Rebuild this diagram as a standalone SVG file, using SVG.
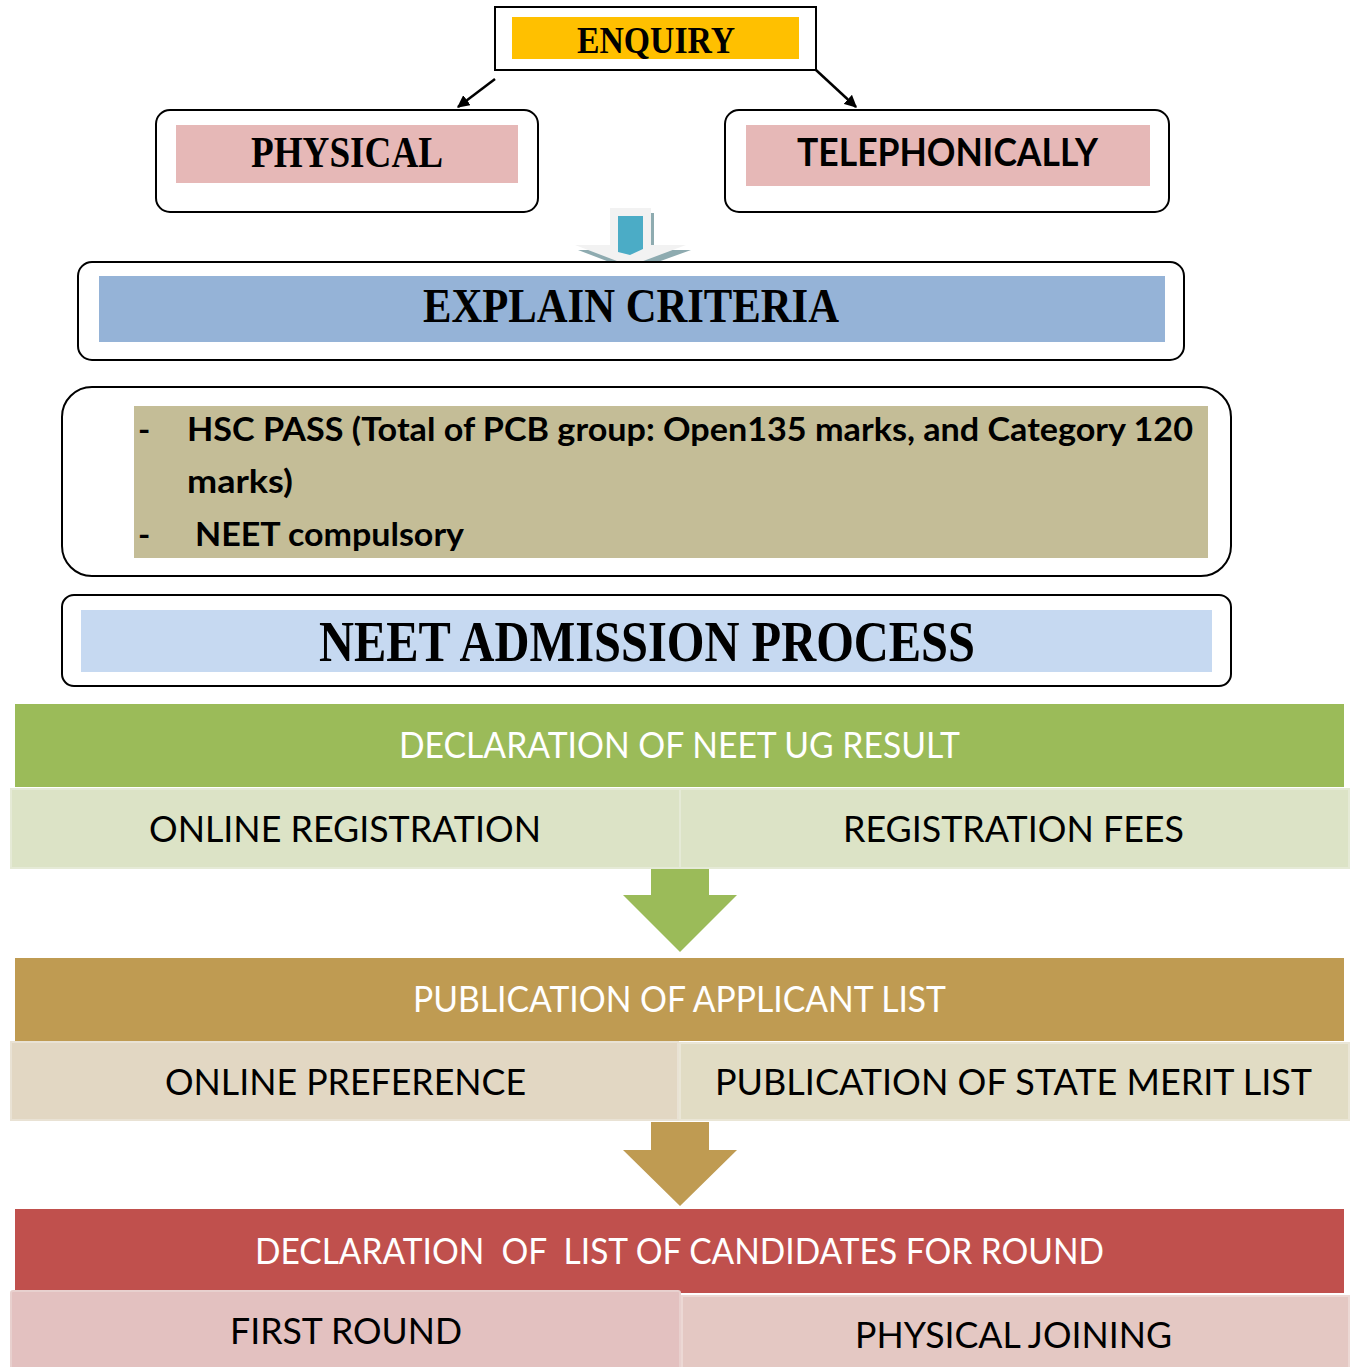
<svg xmlns="http://www.w3.org/2000/svg" width="1354" height="1367" viewBox="0 0 1354 1367">
<defs>
<style>
.box{fill:#fff;stroke:#000;stroke-width:2}
.ser{font-family:"Liberation Serif","DejaVu Serif",serif;font-weight:bold;fill:#000}
.sb{font-family:Lato,"Liberation Sans",sans-serif;font-weight:bold;fill:#000}
.s{font-family:Lato,"Liberation Sans",sans-serif;fill:#000;font-size:37px}
.w{font-family:Lato,"Liberation Sans",sans-serif;fill:#fff;font-size:36px}
.sub{stroke-width:2}
</style>
<marker id="ah" viewBox="0 0 10 10" refX="9" refY="5" markerWidth="5" markerHeight="5" orient="auto">
<path d="M0,0 L10,5 L0,10 z" fill="#000"/>
</marker>
</defs>
<rect width="1354" height="1367" fill="#fff"/>

<g id="connectors">
<line x1="495" y1="79" x2="458" y2="107" stroke="#000" stroke-width="2.5" marker-end="url(#ah)"/>
<line x1="816" y1="70" x2="856" y2="107" stroke="#000" stroke-width="2.5" marker-end="url(#ah)"/>
<g id="arrow-top">
<polygon points="613,213 654,213 654,250 691,250 633,271 578,250 613,250" fill="#8EABB0"/>
<polygon points="610,208 651,208 651,245 686,245 630,266 575,245 610,245" fill="#F2F2F2"/>
<polygon points="618,216 643,216 643,249 630,255 618,252" fill="#4BACC6"/>
</g>
<polygon id="arrow-green" points="651,869 709,869 709,895 737,895 680,952 623,895 651,895" fill="#9BBB59"/>
<polygon id="arrow-gold" points="651,1122 709,1122 709,1150 737,1150 680,1206 623,1150 651,1150" fill="#BF9B52"/>
</g>

<g id="enquiry">
<rect x="495" y="7" width="321" height="63" fill="#fff" stroke="#000" stroke-width="2"/>
<rect x="512" y="17" width="287" height="42" fill="#FFC000"/>
<text class="ser" x="577" y="53" font-size="37" textLength="158" lengthAdjust="spacingAndGlyphs">ENQUIRY</text>
</g>

<g id="physical">
<rect class="box" x="156" y="110" width="382" height="102" rx="14"/>
<rect x="176" y="125" width="342" height="58" fill="#E6B8B7"/>
<text class="ser" x="251" y="167" font-size="44" textLength="192" lengthAdjust="spacingAndGlyphs">PHYSICAL</text>
</g>

<g id="telephonically">
<rect class="box" x="725" y="110" width="444" height="102" rx="14"/>
<rect x="746" y="125" width="404" height="61" fill="#E6B8B7"/>
<text class="sb" x="797" y="166" font-size="39" textLength="301" lengthAdjust="spacingAndGlyphs">TELEPHONICALLY</text>
</g>

<g id="explain-criteria">
<rect class="box" x="78" y="262" width="1106" height="98" rx="14"/>
<rect x="99" y="276" width="1066" height="66" fill="#95B3D7"/>
<text class="ser" x="423" y="322" font-size="49" textLength="416" lengthAdjust="spacingAndGlyphs">EXPLAIN CRITERIA</text>
</g>

<g id="criteria">
<rect class="box" x="62" y="387" width="1169" height="189" rx="30"/>
<rect x="134" y="406" width="1074" height="152" fill="#C4BD97"/>
<text class="sb" x="138" y="441" font-size="33">-</text>
<text class="sb" x="187" y="441" font-size="33" textLength="1006" lengthAdjust="spacingAndGlyphs">HSC PASS (Total of PCB group: Open135 marks, and Category 120</text>
<text class="sb" x="187" y="493" font-size="33" textLength="106" lengthAdjust="spacingAndGlyphs">marks)</text>
<text class="sb" x="138" y="546" font-size="33">-</text>
<text class="sb" x="195" y="546" font-size="33" textLength="269" lengthAdjust="spacingAndGlyphs">NEET compulsory</text>
</g>

<g id="neet-admission">
<rect class="box" x="62" y="595" width="1169" height="91" rx="12"/>
<rect x="81" y="610" width="1131" height="62" fill="#C6D9F1"/>
<text class="ser" x="319" y="661" font-size="56" textLength="656" lengthAdjust="spacingAndGlyphs">NEET ADMISSION PROCESS</text>
</g>

<g id="declaration-result">
<rect x="15" y="704" width="1329" height="83" fill="#9BBB59"/>
<text class="w" x="399" y="758" textLength="561" lengthAdjust="spacingAndGlyphs">DECLARATION OF NEET UG RESULT</text>
</g>
<g id="online-registration">
<rect x="11" y="789" width="669" height="79" fill="#DCE3C6" stroke="#E5EAD6" stroke-width="2"/>
<text class="s" x="149" y="842" textLength="392" lengthAdjust="spacingAndGlyphs">ONLINE REGISTRATION</text>
</g>
<g id="registration-fees">
<rect x="680" y="789" width="669" height="79" fill="#DCE3C6" stroke="#E5EAD6" stroke-width="2"/>
<text class="s" x="843" y="842" textLength="341" lengthAdjust="spacingAndGlyphs">REGISTRATION FEES</text>
</g>

<g id="applicant-list">
<rect x="15" y="958" width="1329" height="83" fill="#BF9B52"/>
<text class="w" x="413" y="1012" textLength="533" lengthAdjust="spacingAndGlyphs">PUBLICATION OF APPLICANT LIST</text>
</g>
<g id="online-preference">
<rect x="11" y="1042" width="667" height="78" fill="#E2D7C3" stroke="#E9E2D4" stroke-width="2"/>
<text class="s" x="165" y="1095" textLength="361" lengthAdjust="spacingAndGlyphs">ONLINE PREFERENCE</text>
</g>
<g id="state-merit-list">
<rect x="680" y="1043" width="669" height="77" fill="#E1DCC4" stroke="#EAE6D6" stroke-width="2"/>
<text class="s" x="715" y="1095" textLength="597" lengthAdjust="spacingAndGlyphs">PUBLICATION OF STATE MERIT LIST</text>
</g>

<g id="candidates-round">
<rect x="15" y="1209" width="1329" height="84" fill="#C0504D"/>
<text class="w" x="255" y="1264" textLength="849" lengthAdjust="spacingAndGlyphs" xml:space="preserve">DECLARATION  OF  LIST OF CANDIDATES FOR ROUND</text>
</g>
<g id="first-round">
<rect x="11" y="1291" width="669" height="80" rx="2" fill="#E3C1C0" stroke="#E8D0CE" stroke-width="2"/>
<text class="s" x="230" y="1344" textLength="232" lengthAdjust="spacingAndGlyphs">FIRST ROUND</text>
</g>
<g id="physical-joining">
<rect x="682" y="1296" width="667" height="75" fill="#E4C8C3" stroke="#ECD8D4" stroke-width="2"/>
<text class="s" x="855" y="1348" textLength="317" lengthAdjust="spacingAndGlyphs">PHYSICAL JOINING</text>
</g>
</svg>
